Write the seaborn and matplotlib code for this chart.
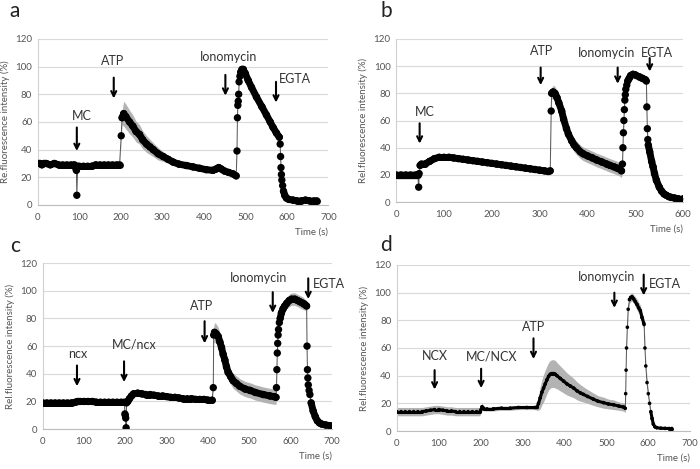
import numpy as np
import matplotlib
matplotlib.use("Agg")
import matplotlib.pyplot as plt
from matplotlib.collections import LineCollection
import seaborn as sns

# ---- panel a ----
a_time = [0, 5, 10, 15, 20, 30, 40, 50, 60, 70, 80, 88, 93, 94, 96, 100, 110, 120, 130, 140,
          150, 160, 170, 180, 190, 197, 201, 203, 207, 212, 221, 229, 237, 245, 253, 262, 270,
          278, 290, 302, 314, 326, 340, 358, 374, 390, 406, 422, 430, 436, 442, 450, 460, 470,
          478, 480, 481, 482, 483, 484, 485, 487, 489, 492, 495, 500, 507, 515, 527, 540, 551,
          560, 567, 575, 582, 584, 585, 586, 587, 588, 590, 592, 595, 599, 605, 615, 625, 635,
          645, 655, 665, 672]
a_mean = [30, 30, 29, 30, 30, 29, 30, 29, 29, 29, 29, 29, 25, 7, 28, 28, 28, 28, 28, 29,
          29, 29, 29, 29, 29, 29, 50, 63, 66, 64, 60, 57, 53, 51, 47, 44, 42,
          40, 37, 35, 33, 31, 29.5, 28.5, 27.5, 26.5, 25.5, 25, 26, 27, 26, 24.5, 23.5, 22.5,
          21, 39, 63, 72, 75, 80, 89, 93, 96, 98, 98, 95, 90, 85, 78, 71, 65,
          60, 56, 52, 49, 44, 35, 27, 22, 18, 14, 10, 7, 5, 4, 3.5, 3, 3,
          3.5, 3, 3, 3]
a_sd = [1.5, 1.5, 1.5, 1.5, 1.5, 1.5, 1.5, 1.5, 1.5, 1.5, 1.5, 1.5, 1, 1, 1.5, 1.5, 1.5, 1.5, 1.5, 1.5,
        1.5, 1.5, 1.5, 1.5, 1.5, 1.5, 3, 5, 9, 9, 8.5, 8, 7.5, 7, 6.5, 6, 5.5,
        5, 4.5, 3.5, 3, 2.5, 2, 1.5, 1.5, 1.5, 1.5, 1.5, 1.5, 1.5, 1.5, 1.5, 1.5, 1.5,
        1.5, 2, 2, 2, 2, 2, 2, 2, 2, 2, 2, 2.5, 3, 3, 3.5, 4, 4.5,
        4.5, 4.5, 4.5, 4, 3, 3, 3, 3, 2, 2, 2, 1.5, 1, 1, 1, 1, 1,
        1, 1, 1, 1]

# ---- panel b ----
b_time = [0, 10, 20, 30, 40, 45, 47, 48, 50, 53, 60, 70, 80, 90, 100, 110, 120, 130, 140, 150,
          160, 170, 180, 190, 200, 210, 220, 230, 240, 250, 260, 270, 280, 290, 300, 310, 318,
          322, 324, 325, 328, 332, 336, 340, 346, 350, 356, 360, 367, 372, 377, 385, 391, 400,
          410, 419, 430, 440, 447, 455, 462, 468, 471, 473, 474, 475, 476, 477, 478, 479, 480,
          482, 484, 487, 490, 495, 500, 509, 515, 521, 523, 524, 525, 526, 527, 530, 534, 537,
          540, 544, 550, 555, 560, 565, 570, 575, 582, 590, 600, 603]
b_mean = [20, 20, 20, 20, 20, 20, 11, 21, 27, 28, 28, 30, 32, 33, 33, 33, 32.5, 32, 31.5, 31,
          30.5, 30, 29.5, 29, 28.5, 28, 27.5, 27, 26.5, 26, 25.5, 25, 24.5, 24, 23.5, 23, 22.5,
          23, 67, 80, 81, 80, 77, 73, 67, 61, 54, 50, 45, 42, 40, 37, 35.5, 34,
          32.5, 31, 29.5, 28, 27, 26, 25, 24, 23, 28, 40, 51, 60, 68, 75, 79, 83,
          86, 89, 91, 93, 94, 93.5, 92, 91, 90, 89, 70, 54, 46, 42, 37, 30, 26,
          21, 16, 11, 8, 6, 5, 4, 3.5, 3, 2.5, 2.5, 2.5]
b_sd = [3, 3, 3, 3, 3, 3, 1, 2, 2, 2, 2, 2, 2, 2, 2, 2, 2, 2, 2, 2,
        2, 2, 2, 2, 2, 2, 2, 2, 2, 2, 2, 2, 2, 2, 2, 2, 2,
        2, 3, 4, 5, 5, 5, 5, 5, 5, 5, 5, 5, 5, 5, 5, 5, 5,
        5, 5, 5, 5, 5, 5, 5, 5, 5, 3, 3, 3, 3, 3, 3, 3, 3,
        3, 3, 3, 3, 3, 3, 3, 3, 3, 3, 3, 3, 3, 3, 3, 3, 3,
        3, 3, 2.5, 2, 2, 1.5, 1, 1, 1, 1, 1, 1]

# ---- panel c ----
c_time = [0, 10, 20, 30, 40, 50, 60, 70, 80, 85, 90, 100, 110, 120, 130, 140, 150, 160, 170, 180,
          190, 198, 199, 200, 201, 202, 203, 206, 210, 215, 220, 230, 240, 250, 260, 270, 280,
          290, 300, 310, 320, 330, 340, 350, 360, 370, 380, 390, 400, 410, 413, 414, 416, 420,
          425, 429, 433, 437, 441, 445, 449, 455, 461, 469, 477, 490, 502, 515, 534, 550, 560,
          565, 566, 567, 568, 569, 570, 571, 573, 575, 578, 582, 586, 591, 597, 603, 610, 617,
          623, 630, 635, 639, 640, 641, 642, 643, 645, 647, 650, 655, 660, 665, 670, 676, 685, 696]
c_mean = [19, 19, 19, 19, 19, 19, 19, 19, 19.5, 20, 20, 20, 20, 20, 19.5, 19.5, 19.5, 19.5, 19.5, 19.5,
          19.5, 19.5, 11, 10, 8, 1, 19, 20, 22, 24, 25.5, 26, 25.5, 25, 25, 24.5, 24,
          24, 23.5, 23, 23, 22.5, 22, 22, 22, 21.5, 21.5, 21.5, 21, 21, 30, 68, 70, 69,
          67, 63, 59, 54, 50, 45, 41, 38, 35, 33, 31, 29, 28, 26.5, 25, 24, 23.5,
          23, 30, 43, 55, 62, 68, 72, 77, 80, 84, 87, 89, 91, 93, 94, 94, 93,
          92, 91, 90, 89, 60, 43, 37, 32, 28, 25, 19, 13, 9, 6, 4.5, 3.6, 3, 2.5]
c_sd = [1, 1, 1, 1, 1, 1, 1, 1, 1, 1, 1, 1, 1, 1, 1, 1, 1, 1, 1, 1,
        1, 1, 1, 1, 1, 1, 1, 1, 1, 1, 1, 1, 1, 1, 1, 1, 1,
        1, 1, 1, 1, 1, 1, 1, 1, 1, 1, 1, 1, 1, 2, 6, 7, 7,
        6.5, 6.5, 6.5, 6, 6, 6, 5.5, 5.5, 5.5, 5.5, 5.5, 5.5, 5.5, 5.5, 5.5, 5.5, 5.5,
        5, 3, 3, 3, 3, 3, 3, 3, 3, 4, 4, 4, 4, 4.5, 4.5, 4.5, 4.5,
        4.5, 4.5, 4, 4, 3, 3, 3, 3, 3, 2, 2, 1.5, 1, 1, 1, 1, 1, 1]

# ---- panel d ----
d_time = [0, 10, 20, 30, 40, 50, 60, 70, 80, 90, 100, 110, 120, 130, 140, 150, 160, 170, 180, 190,
          198, 200, 203, 205, 208, 215, 230, 250, 270, 290, 310, 330, 334, 338, 342, 346, 350,
          354, 358, 362, 366, 370, 374, 378, 382, 390, 398, 406, 414, 422, 430, 438, 445, 455,
          469, 480, 493, 505, 517, 530, 541, 545, 546, 547, 548, 550, 552, 555, 558, 561, 565,
          569, 573, 577, 581, 585, 589, 590, 592, 594, 597, 600, 603, 606, 609, 612, 616, 620,
          630, 640, 650, 656]
d_mean = [14, 14, 14, 14, 14, 14, 14, 14.5, 15, 15.5, 15.5, 15, 14.5, 14.5, 14, 14, 14, 14, 14, 14,
          14, 15, 17.5, 17, 16, 16, 16, 16.5, 16.5, 17, 17, 17, 17, 20, 24, 28, 31,
          34, 37, 39.5, 41, 41.5, 41.5, 41, 40, 38, 36, 34, 32.5, 31, 29, 27.5, 26.5, 25,
          23, 21.5, 20.5, 19.5, 19, 18, 17.3, 16.4, 27, 44, 60, 75, 88, 95, 96.5, 97, 95.5,
          93.5, 91.5, 89, 87, 82, 78, 77, 60, 47, 35, 27, 20, 14, 9, 5, 3, 2.4,
          2, 1.9, 1.8, 1.8]
d_sd = [3, 3, 3, 3, 3, 3, 3, 3, 3, 3, 3, 3, 3, 3, 3, 3, 3, 3, 3, 3,
        3, 2, 3, 2, 1.5, 1.5, 1.5, 1.5, 1.5, 1.5, 1.5, 1.5, 2, 5, 8, 9, 10,
        10, 10, 10, 10, 10, 10, 10, 9.5, 9, 8.5, 8, 7.5, 7, 6.5, 6, 5.5, 5,
        4.5, 4, 4, 3.5, 3.5, 3, 3, 3, 3, 3, 3, 3, 3, 3, 3, 3, 3,
        3.5, 4, 4, 4, 4, 4, 4, 3, 3, 3, 2, 2, 1.5, 1, 1, 0.5, 0.5,
        0.5, 0.5, 0.5, 0.5]

# arrows: (label, x, arrow top, arrow bottom, label x, label y)
a_arrows = [("MC", 94, 58, 37, 105, 64), ("ATP", 183, 94, 75, 181, 104),
            ("Ionomycin", 452, 96, 77, 459, 107), ("EGTA", 574, 91, 72, 619, 91)]
b_arrows = [("MC", 49, 60, 41, 60, 66), ("ATP", 302, 101, 84, 304, 111),
            ("Ionomycin", 463, 101, 85, 440, 110), ("EGTA", 530, 108, 94, 546, 110)]
c_arrows = [("ncx", 83, 48, 29, 85, 54), ("MC/ncx", 197, 51, 32, 222, 61),
            ("ATP", 392, 80, 60, 384, 89), ("Ionomycin", 557, 101, 82, 522, 109),
            ("EGTA", 643, 111, 92, 692, 105)]
d_arrows = [("NCX", 90, 46, 28, 90, 54), ("MC/NCX", 201, 47, 29, 225, 54),
            ("ATP", 326, 69, 50, 326, 75), ("Ionomycin", 519, 102, 87, 501, 111),
            ("EGTA", 589, 115, 96, 640, 106)]

sns.set_style("white")
plt.rcParams["font.family"] = ["Lato", "DejaVu Sans"]

fig = plt.figure(figsize=(7, 4.69), dpi=100)

panels = [
    ("a", [0.054, 0.563, 0.415, 0.354], a_time, a_mean, a_sd, a_arrows, 700,
     "Re.fluorescence intensity (%)", 5.3, 5.0),
    ("b", [0.566, 0.569, 0.410, 0.348], b_time, b_mean, b_sd, b_arrows, 600,
     "Rel.fluorescence intensity (%)", 5.3, 5.0),
    ("c", [0.061, 0.085, 0.413, 0.354], c_time, c_mean, c_sd, c_arrows, 700,
     "Rel.fluorescence intensity (%)", 5.3, 5.0),
    ("d", [0.567, 0.081, 0.419, 0.354], d_time, d_mean, d_sd, d_arrows, 700,
     "Rel.fluorescence intensity (%)", 2.6, 2.2),
]
letter_pos = {"a": (0.014, 0.964), "b": (0.543, 0.964), "c": (0.014, 0.463), "d": (0.543, 0.465)}

for name, rect, t, m, sd, arrows, xmax, ylab, msize, thick_lw in panels:
    ax = fig.add_axes(rect)
    t = np.array(t, dtype=float)
    m = np.array(m, dtype=float)
    sd = np.array(sd, dtype=float)
    ax.fill_between(t, m - sd, m + sd, color="#b3b3b3", lw=0, zorder=2)
    # thin connecting line
    sns.lineplot(x=t, y=m, ax=ax, color="#555555", lw=0.7, zorder=3)
    # dense recordings merge into a thick trace; fast jumps stay as single dots
    pts = np.column_stack([t, m])
    segs = [pts[i:i + 2] for i in range(len(t) - 1)
            if t[i + 1] - t[i] >= 3 and abs(m[i + 1] - m[i]) / (t[i + 1] - t[i]) < 2]
    ax.add_collection(LineCollection(segs, colors="black", linewidths=thick_lw,
                                     capstyle="round", zorder=3.5))
    sns.scatterplot(x=t, y=m, ax=ax, color="black", s=msize ** 2, edgecolor="none", zorder=4)

    ax.set_xlim(0, xmax)
    ax.set_ylim(0, 120)
    ax.set_xticks(np.arange(0, xmax + 1, 100))
    ax.set_yticks(np.arange(0, 121, 20))
    ax.grid(axis="y", color="#d9d9d9", lw=0.8)
    ax.set_axisbelow(True)
    for s in ["top", "right"]:
        ax.spines[s].set_visible(False)
    ax.spines["left"].set_color("#d0d0d0")
    ax.spines["bottom"].set_color("#bdbdbd")
    ax.tick_params(axis="x", length=3, color="#bdbdbd", labelsize=7, labelcolor="#555555", pad=3)
    ax.tick_params(axis="y", length=0, labelsize=7, labelcolor="#555555", pad=4)
    ax.set_ylabel(ylab, fontsize=7, color="#555555", labelpad=4)
    ax.set_xlabel("")
    ax.text(1.0, -0.165, "Time (s)", transform=ax.transAxes, ha="right", va="center",
            fontsize=7, color="#555555")

    for lab, x, ytop, ybot, lx, ly in arrows:
        ax.annotate("", xy=(x, ybot), xytext=(x, ytop),
                    arrowprops=dict(arrowstyle="->", lw=1.5, color="black", mutation_scale=9),
                    zorder=5)
        ax.text(lx, ly, lab, ha="center", va="center", fontsize=9, color="#333333", zorder=5)

    lx, ly = letter_pos[name]
    fig.text(lx, ly, name, fontsize=15, color="#222222", ha="left", va="baseline")

fig.savefig("out.png", dpi=100)
